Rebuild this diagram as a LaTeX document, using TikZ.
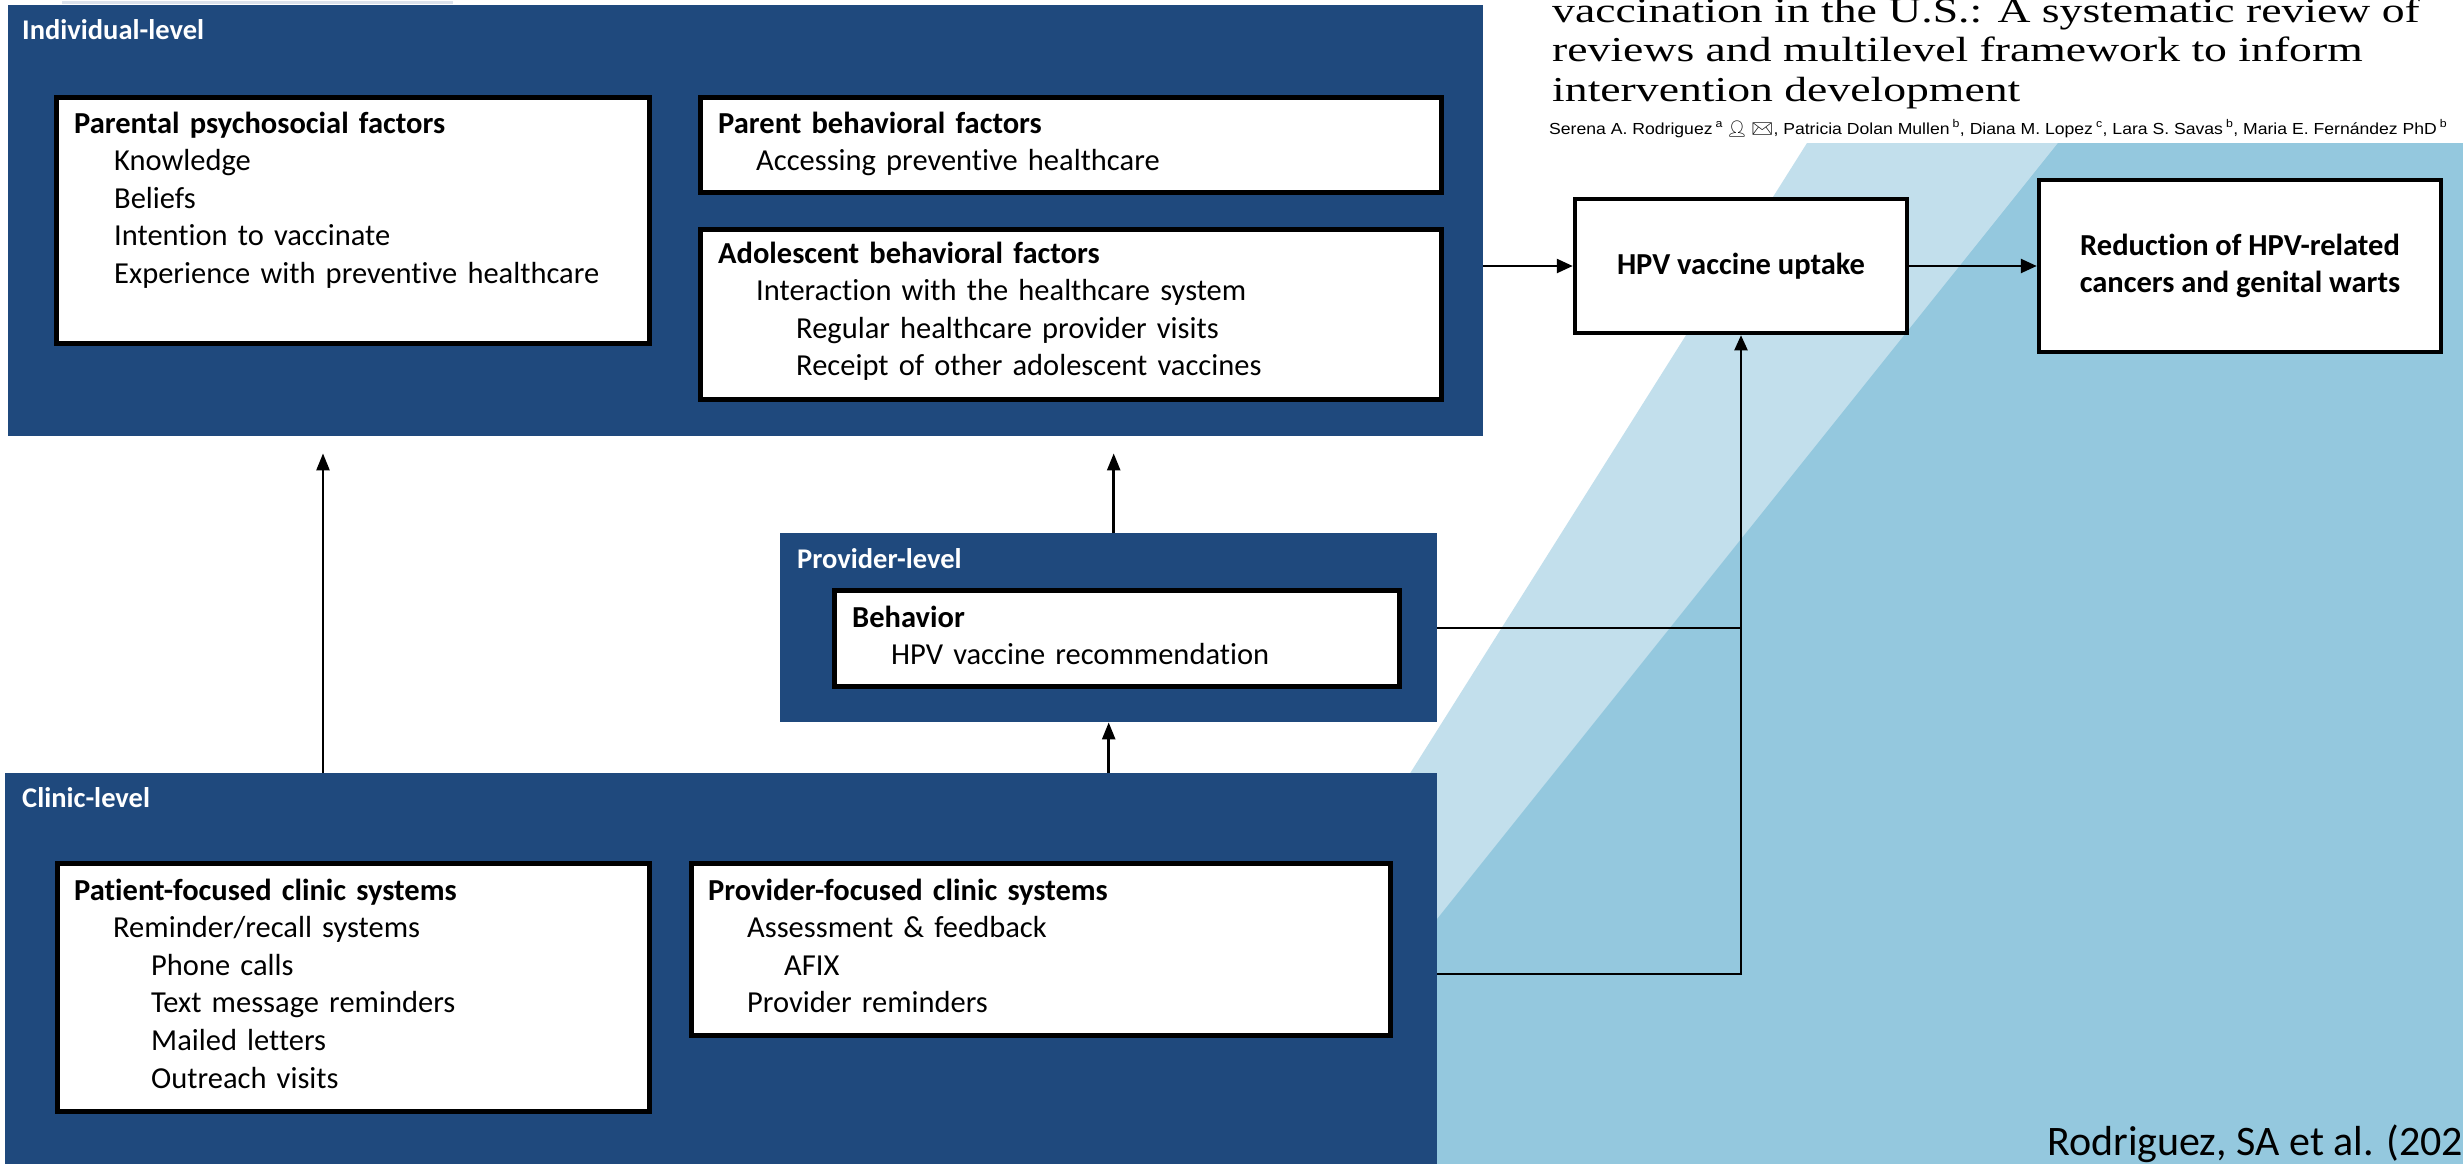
\documentclass[tikz,border=0pt]{standalone}
\usepackage{fontspec}
\usepackage{graphicx}
\setmainfont{Carlito}[Ligatures=NoCommon]
\newfontfamily\titlefont{Liberation Serif}
\newfontfamily\authfont{Liberation Sans}
\newfontfamily\iconfont{Noto Emoji}
\usetikzlibrary{arrows.meta,calc}

\definecolor{navy}{HTML}{1F497D}
\definecolor{bandlight}{HTML}{C2DFEC}
\definecolor{banddark}{HTML}{94C8DE}
\definecolor{topline}{HTML}{DCE2EC}

\tikzset{
  levelbox/.style={fill=navy, draw=none, anchor=north west, inner sep=0pt},
  factorbox/.style={fill=white, draw=black, line width=4.5pt, anchor=north west, inner sep=0pt},
  outcomebox/.style={fill=white, draw=black, line width=4.5pt, inner sep=0pt, align=center,
    font=\bfseries\fontsize{30.5}{37.5}\selectfont},
  lvllabel/.style={anchor=base west, inner sep=0pt, text=white,
    font=\bfseries\fontsize{28.5}{33}\selectfont},
  boxtxt/.style={anchor=base west, inner sep=0pt, align=left, text width=#1,
    font=\fontsize{30.5}{37.6}\selectfont},
  uparrow/.style={line width=2.5pt, -{Triangle[length=17pt,width=13pt]}},
  flowarrow/.style={line width=2.5pt, -{Triangle[length=16pt,width=14pt]}},
  link/.style={line width=2pt},
  titleline/.style={anchor=base west, inner sep=0pt},
}
\newcommand\ind[1]{\hspace*{#1pt}}
\newcommand\ttl[1]{\scalebox{1.305}[1]{\titlefont\fontsize{35}{38}\selectfont #1}}

\begin{document}
\begin{tikzpicture}[x=1pt,y=-1pt]
\useasboundingbox (0,0) rectangle (2463,1164);
\clip (0,0) rectangle (2463,1164);

% backdrop: white page with two diagonal blue bands on the right
\fill[white] (0,0) rectangle (2463,1164);
\fill[bandlight] (1807,143) -- (2463,143) -- (2463,1164) -- (1164,1164) -- cycle;
\fill[banddark] (2058,143) -- (2463,143) -- (2463,1164) -- (1241,1164) -- cycle;
\fill[topline] (62,1.5) rectangle (453,4);

% article heading in the upper right
\node[titleline] (t1) at (1552,23) {\ttl{vaccination in the U.S.: A systematic review of}};
\node[titleline] (t2) at (1552,62) {\ttl{reviews and multilevel framework to inform}};
\node[titleline] (t3) at (1552,101) {\ttl{intervention development}};
\node[titleline] (authors) at (1549,134) {\resizebox{898pt}{\height}{\authfont\fontsize{16}{19}\selectfont
  Serena A. Rodriguez\,\textsuperscript{a}\,{\iconfont 👤}\,{\iconfont ✉}, Patricia Dolan Mullen\,\textsuperscript{b}, Diana M. Lopez\,\textsuperscript{c}, Lara S. Savas\,\textsuperscript{b}, Maria E. Fernández PhD\,\textsuperscript{b}}};

% ---------- individual level ----------
\node[levelbox, minimum width=1475pt, minimum height=431pt] (indiv) at (8,5) {};
\node[lvllabel] (indivlbl) at ($(indiv.north west)+(14,35)$) {Individual-level};

\node[factorbox, minimum width=593pt, minimum height=246pt] (pps) at (54,95) {};
\node[boxtxt=560pt] (ppstxt) at ($(pps.north west)+(20,38)$) {\textbf{Parental psychosocial factors}\\
  \ind{40}Knowledge\\
  \ind{40}Beliefs\\
  \ind{40}Intention to vaccinate\\
  \ind{40}Experience with preventive healthcare};

\node[factorbox, minimum width=741pt, minimum height=95pt] (pbf) at (698,95) {};
\node[boxtxt=700pt] (pbftxt) at ($(pbf.north west)+(20,38)$) {\textbf{Parent behavioral factors}\\
  \ind{38}Accessing preventive healthcare};

\node[factorbox, minimum width=741pt, minimum height=170pt] (abf) at (698,227) {};
\node[boxtxt=700pt] (abftxt) at ($(abf.north west)+(20,36)$) {\textbf{Adolescent behavioral factors}\\
  \ind{38}Interaction with the healthcare system\\
  \ind{78}Regular healthcare provider visits\\
  \ind{78}Receipt of other adolescent vaccines};

% ---------- provider level ----------
\node[levelbox, minimum width=657pt, minimum height=189pt] (prov) at (780,533) {};
\node[lvllabel] (provlbl) at ($(prov.north west)+(17,35)$) {Provider-level};

\node[factorbox, minimum width=565pt, minimum height=96pt] (beh) at (832,588) {};
\node[boxtxt=530pt] (behtxt) at ($(beh.north west)+(20,39)$) {\textbf{Behavior}\\
  \ind{39}HPV vaccine recommendation};

% ---------- clinic level ----------
\node[levelbox, minimum width=1432pt, minimum height=402pt] (clinic) at (5,773) {};
\node[lvllabel] (cliniclbl) at ($(clinic.north west)+(17,34)$) {Clinic-level};

\node[factorbox, minimum width=592pt, minimum height=248pt] (pfc) at (55,861) {};
\node[boxtxt=560pt] (pfctxt) at ($(pfc.north west)+(19,39)$) {\textbf{Patient-focused clinic systems}\\
  \ind{39}Reminder/recall systems\\
  \ind{77}Phone calls\\
  \ind{77}Text message reminders\\
  \ind{77}Mailed letters\\
  \ind{77}Outreach visits};

\node[factorbox, minimum width=699pt, minimum height=172pt] (prfc) at (689,861) {};
\node[boxtxt=660pt] (prfctxt) at ($(prfc.north west)+(19,39)$) {\textbf{Provider-focused clinic systems}\\
  \ind{39}Assessment \& feedback\\
  \ind{76}AFIX\\
  \ind{39}Provider reminders};

% ---------- outcomes ----------
\node[outcomebox, minimum width=332pt, minimum height=134pt] (hpv) at (1741,266) {HPV vaccine uptake};
\node[outcomebox, minimum width=402pt, minimum height=172pt] (red) at (2240,266) {Reduction of HPV-related\\cancers and genital warts};

% ---------- connectors ----------
\draw[uparrow, shorten >=17pt] ($(clinic.north west)+(318,0)$) -- ($(indiv.south west)+(315,0)$);
\draw[uparrow, shorten >=17pt] ($(prov.north)+(5,0)$) -- ($(indiv.south -| prov.north)+(5,0)$);
\draw[uparrow] (clinic.north -| prov.south) -- (prov.south);

\draw[flowarrow] (indiv.east |- hpv.west) -- (hpv.west);
\draw[flowarrow] (hpv.east) -- (red.west);

\draw[link] (prov.east) -- (prov.east -| hpv.south);
\draw[link, -{Triangle[length=15pt,width=13pt]}] (clinic.east) -| (hpv.south);

% source note
\node[anchor=base west, inner sep=0pt, font=\fontsize{42}{50}\selectfont] (cite) at (2047,1155) {Rodriguez, SA et al. (202};
\end{tikzpicture}
\end{document}
